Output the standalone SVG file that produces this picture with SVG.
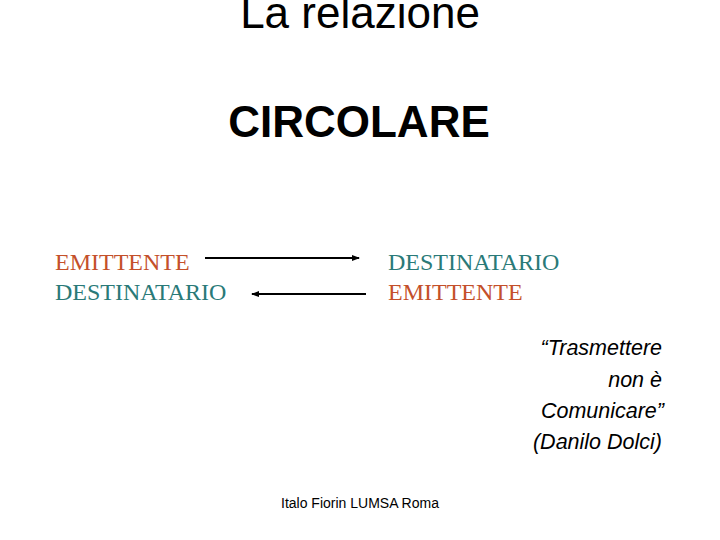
<svg xmlns="http://www.w3.org/2000/svg" width="720" height="540" viewBox="0 0 720 540">
<style>
.sans{font-family:"Liberation Sans",Arial,sans-serif;fill:#000}
.ser{font-family:"Liberation Serif","Times New Roman",serif;font-size:24px}
.red{fill:#C4502A}
.teal{fill:#2A7A78}
.q{font-family:"Liberation Sans",Arial,sans-serif;font-style:italic;font-size:21.5px;fill:#000;text-anchor:end}
</style>
<defs>
<marker id="ah" markerWidth="8" markerHeight="6" refX="7" refY="3" orient="auto" markerUnits="userSpaceOnUse">
<path d="M0,0 L8,3 L0,6 Z" fill="#000"/>
</marker>
</defs>
<rect width="720" height="540" fill="#fff"/>
<g id="title">
<text class="sans" x="360" y="28" font-size="44" text-anchor="middle">La relazione</text>
<text class="sans" x="359" y="137" font-size="44" font-weight="bold" text-anchor="middle">CIRCOLARE</text>
</g>
<g id="left">
<text class="ser red" x="55" y="270">EMITTENTE</text>
<text class="ser teal" x="55" y="300">DESTINATARIO</text>
</g>
<g id="right">
<text class="ser teal" x="388" y="270">DESTINATARIO</text>
<text class="ser red" x="388" y="300">EMITTENTE</text>
</g>
<g id="connectors" stroke="#000" stroke-width="2">
<line x1="205" y1="258" x2="359" y2="258" marker-end="url(#ah)"/>
<line x1="366" y1="294" x2="252" y2="294" marker-end="url(#ah)"/>
</g>
<g id="quote">
<text class="q" x="662" y="355">“Trasmettere</text>
<text class="q" x="662" y="387">non è</text>
<text class="q" x="664" y="418">Comunicare”</text>
<text class="q" x="662" y="449">(Danilo Dolci)</text>
</g>
<g id="footer">
<text class="sans" x="360" y="508" font-size="14" text-anchor="middle">Italo Fiorin LUMSA Roma</text>
</g>
</svg>
